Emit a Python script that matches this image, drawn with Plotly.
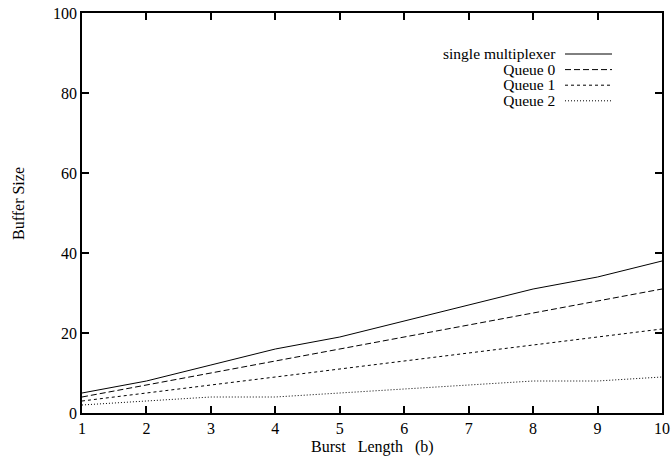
import plotly.graph_objects as go

burst_length = [1, 2, 3, 4, 5, 6, 7, 8, 9, 10]
single_mux = [5, 8, 12, 16, 19, 23, 27, 31, 34, 38]
queue0 = [4, 7, 10, 13, 16, 19, 22, 25, 28, 31]
queue1 = [3, 5, 7, 9, 11, 13, 15, 17, 19, 21]
queue2 = [2, 3, 4, 4, 5, 6, 7, 8, 8, 9]

series = [
    ("single multiplexer", single_mux, "solid"),
    ("Queue 0", queue0, "6px,3px"),
    ("Queue 1", queue1, "3px,3px"),
    ("Queue 2", queue2, "1px,2px"),
]

FONT = "Liberation Serif, Times New Roman, serif"
L, R, T, B = 82, 662, 13, 413
PW, PH = R - L, B - T

fig = go.Figure()
for name, ys, dash in series:
    fig.add_trace(go.Scatter(x=burst_length, y=ys, mode="lines", name=name,
                             line=dict(color="black", width=1, dash=dash),
                             showlegend=False, cliponaxis=False))

# gnuplot-style key: right-aligned text block, line samples on the right
legend_y = [54, 69.6, 85.2, 100.8]
for (name, ys, dash), py in zip(series, legend_y):
    yp = 1 - (py - T) / PH
    fig.add_shape(type="line", xref="paper", yref="paper",
                  x0=(565 - L) / PW, x1=(612 - L) / PW, y0=yp, y1=yp,
                  line=dict(color="black", width=1, dash=dash))
key_text = "<br>".join(f"<span style='font-size:15.5px'>{name}</span>" for name, _, _ in series)
fig.add_annotation(x=(557 - L) / PW, y=1 - ((legend_y[0] + legend_y[-1]) / 2 - T) / PH,
                   xref="paper", yref="paper", text=key_text, align="right",
                   showarrow=False, xanchor="right", yanchor="middle", borderpad=0,
                   font=dict(family=FONT, size=12, color="black"))

# axis titles
fig.add_annotation(x=(372 - L) / PW, y=1 - (447 - T) / PH, xref="paper", yref="paper",
                   text="Burst\u00a0\u00a0\u00a0Length\u00a0\u00a0\u00a0(b)", showarrow=False,
                   xanchor="center", yanchor="middle",
                   font=dict(family=FONT, size=16, color="black"))
fig.add_annotation(x=(18 - L) / PW, y=1 - (204 - T) / PH, xref="paper", yref="paper",
                   text="Buffer Size", showarrow=False, textangle=-90,
                   xanchor="center", yanchor="middle",
                   font=dict(family=FONT, size=16, color="black"))

axis_common = dict(showline=True, linecolor="black", linewidth=1.5, mirror="ticks",
                   ticks="inside", ticklen=7, tickcolor="black", tickwidth=1.5,
                   showgrid=False, zeroline=False, automargin=False,
                   tickfont=dict(family=FONT, size=16, color="black"))

fig.update_layout(
    width=671, height=466,
    margin=dict(l=L, r=671 - R, t=T, b=466 - B),
    plot_bgcolor="white", paper_bgcolor="white",
    font=dict(family=FONT, size=16, color="black"),
    xaxis=dict(range=[1, 10], tickvals=burst_length, **axis_common),
    yaxis=dict(range=[0, 100], tickvals=[0, 20, 40, 60, 80, 100], **axis_common),
)

fig.write_html("out.html", config={"displayModeBar": False},
               post_script="document.body.style.margin='0px';document.body.style.overflow='hidden';")
